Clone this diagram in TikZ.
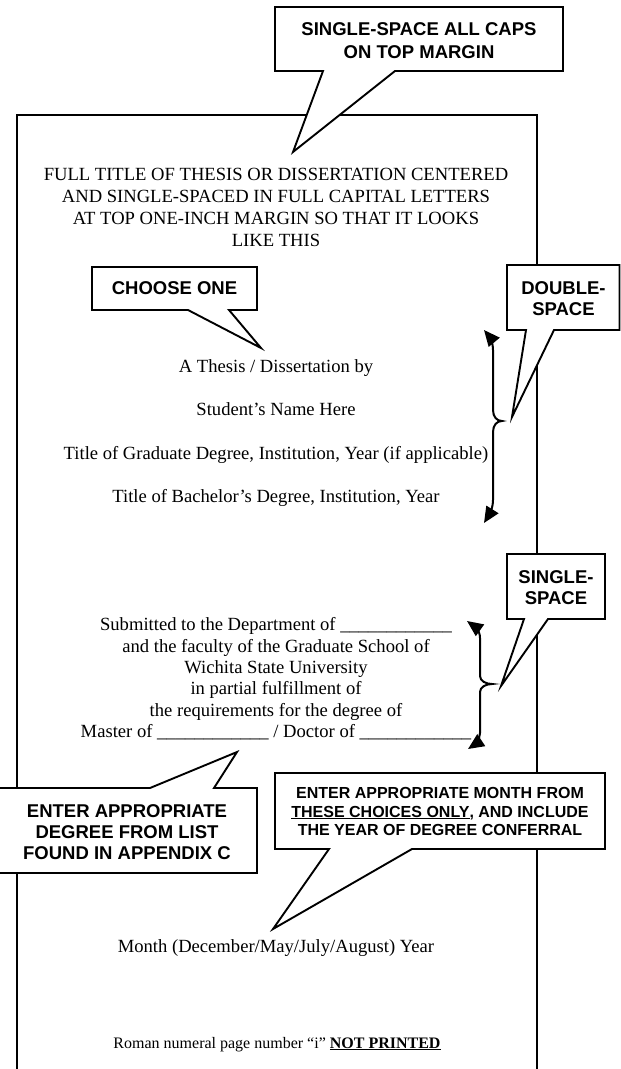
\documentclass[tikz,border=0pt]{standalone}
\usepackage{fontspec}
\setmainfont{Liberation Serif}
\setsansfont{Liberation Sans}
\usetikzlibrary{arrows.meta}

\tikzset{
  body/.style={font=\fontsize{18.6bp}{21.6bp}\selectfont, anchor=base, inner sep=0pt},
  note/.style={font=\fontsize{18.5bp}{21bp}\selectfont\sffamily\bfseries, anchor=base, inner sep=0pt},
  smallnote/.style={font=\fontsize{16bp}{18bp}\selectfont\sffamily\bfseries, anchor=base, inner sep=0pt},
  footer/.style={font=\fontsize{16bp}{18bp}\selectfont, anchor=base, inner sep=0pt},
  callout/.style={draw=black, fill=white, line width=1.9bp, line join=miter},
  page/.style={draw=black, line width=2.5bp},
  bracket/.style={line width=2bp, {Triangle[length=16bp,width=14bp]}-{Triangle[length=16bp,width=14bp]}},
}
\newcommand{\blankline}{\_\_\_\_\_\_\_\_\_\_\_\_}

\begin{document}
\begin{tikzpicture}[x=1bp,y=-1bp]
  \useasboundingbox (0,0) rectangle (621,1069);
  \clip (0,0) rectangle (621,1069);

  \draw[page] (17,1080) -- (17,115) -- (537,115) -- (537,1080);

  \draw[callout] (275,7) -- (563,7) -- (563,71) -- (395,71) -- (293,152) -- (323,71) -- (275,71) -- cycle;
  \draw[callout] (92,267) -- (257,267) -- (257,310) -- (229,310) -- (261,348) -- (188,310) -- (92,310) -- cycle;
  \draw[callout] (507,265) -- (619.5,265) -- (619.5,330) -- (554,330) -- (512,417) -- (526,330) -- (507,330) -- cycle;
  \draw[callout] (507,554) -- (605,554) -- (605,619) -- (548,619) -- (501,686) -- (524,619) -- (507,619) -- cycle;
  \draw[callout] (-5,788) -- (150,788) -- (237,752) -- (214,788) -- (257,788) -- (257,873) -- (-5,873) -- cycle;
  \draw[callout] (275,773) -- (605,773) -- (605,849) -- (412,849) -- (273,929) -- (329,849) -- (275,849) -- cycle;

  \node[note] (capsa) at (419,35.6) {SINGLE-SPACE ALL CAPS};
  \node[note] (capsb) at (419,58.6) {ON TOP MARGIN};
  \node[note] (choose) at (174.5,294.6) {CHOOSE ONE};
  \node[note] (dbla) at (563.5,294.6) {DOUBLE-};
  \node[note] (dblb) at (563.5,315) {SPACE};
  \node[note] (sgla) at (556,583.6) {SINGLE-};
  \node[note] (sglb) at (556,604.6) {SPACE};
  \node[note] (dega) at (127,817.6) {ENTER APPROPRIATE};
  \node[note] (degb) at (127,838.6) {DEGREE FROM LIST};
  \node[note] (degc) at (127,859.6) {FOUND IN APPENDIX C};
  \node[smallnote] (mona) at (440,798.7) {ENTER APPROPRIATE MONTH FROM};
  \node[smallnote] (monb) at (440,817) {\underline{THESE CHOICES ONLY}, AND INCLUDE};
  \node[smallnote] (monc) at (440,835.3) {THE YEAR OF DEGREE CONFERRAL};

  \node[body] (titlea) at (276,180) {FULL TITLE OF THESIS OR DISSERTATION CENTERED};
  \node[body] (titleb) at (276,202) {AND SINGLE-SPACED IN FULL CAPITAL LETTERS};
  \node[body] (titlec) at (276,224) {AT TOP ONE-INCH MARGIN SO THAT IT LOOKS};
  \node[body] (titled) at (276,246) {LIKE THIS};

  \node[body] (thesis) at (276,372.5) {A Thesis / Dissertation by};
  \node[body] (student) at (276,415.8) {Student’s Name Here};
  \node[body] (graddeg) at (276,459.1) {Title of Graduate Degree, Institution, Year (if applicable)};
  \node[body] (bachdeg) at (276,502.5) {Title of Bachelor’s Degree, Institution, Year};

  \node[body] (suba) at (276,630.5) {Submitted to the Department of \blankline};
  \node[body] (subb) at (276,652) {and the faculty of the Graduate School of};
  \node[body] (subc) at (276,673.4) {Wichita State University};
  \node[body] (subd) at (276,694.8) {in partial fulfillment of};
  \node[body] (sube) at (276,716.2) {the requirements for the degree of};
  \node[body] (subf) at (276,737.6) {Master of \blankline{} / Doctor of \blankline};

  \node[body] (month) at (276,952.5) {Month (December/May/July/August) Year};
  \node[footer] (roman) at (277,1048) {Roman numeral page number “i” \textbf{\underline{NOT PRINTED}}};

  \coordinate (dbltop) at (484,330);
  \coordinate (dblbot) at (484,523);
  \coordinate (sgltop) at (467,621);
  \coordinate (sglbot) at (468,749);
  \draw[bracket] (dbltop) .. controls (489,336) and (493,342) .. (493,350) -- (493,410)
    .. controls (493,417) and (497,421) .. (502,421) .. controls (497,421) and (493,425) .. (493,432)
    -- (493,500) .. controls (493,508) and (489,515) .. (dblbot);
  \draw[bracket] (sgltop) .. controls (474,626) and (480,630) .. (480,638) -- (480,676)
    .. controls (480,681) and (486,684) .. (492,684) .. controls (486,684) and (480,687) .. (480,692)
    -- (480,733) .. controls (480,740) and (474,745) .. (sglbot);
\end{tikzpicture}
\end{document}
